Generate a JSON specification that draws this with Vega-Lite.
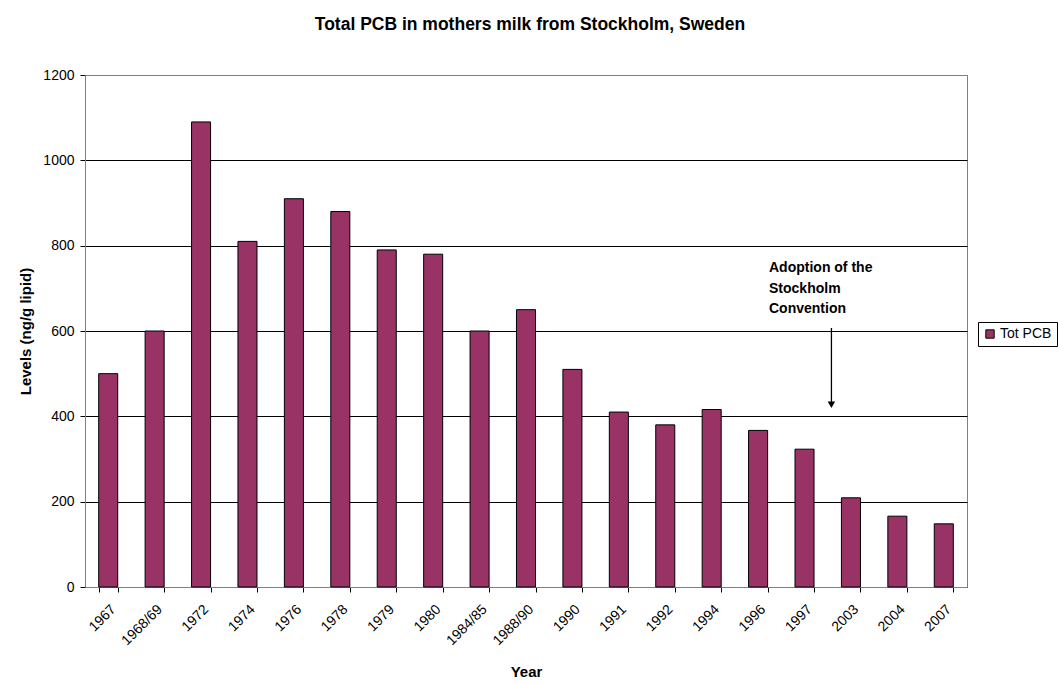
{
  "$schema": "https://vega.github.io/schema/vega-lite/v6.json",
  "autosize": {"type": "none"},
  "padding": {"left": 85, "top": 75, "right": 91, "bottom": 97},
  "width": 882,
  "height": 512,
  "background": "white",
  "title": {
    "text": "Total PCB in mothers milk from Stockholm, Sweden",
    "font": "Liberation Sans",
    "fontSize": 17.5,
    "fontWeight": "bold",
    "color": "black",
    "anchor": "middle",
    "dx": 4,
    "offset": 35
  },
  "config": {
    "view": {"stroke": "#808080", "strokeWidth": 1},
    "font": "Liberation Sans",
    "axis": {
      "labelFont": "Liberation Sans",
      "titleFont": "Liberation Sans",
      "labelColor": "black",
      "titleColor": "black",
      "labelFontSize": 14,
      "titleFontSize": 15,
      "titleFontWeight": "bold",
      "domainColor": "#808080",
      "tickColor": "black",
      "tickSize": 5
    }
  },
  "data": {
    "values": [
      {"Year": "1967", "PCB": 500},
      {"Year": "1968/69", "PCB": 600},
      {"Year": "1972", "PCB": 1090},
      {"Year": "1974", "PCB": 810},
      {"Year": "1976", "PCB": 910},
      {"Year": "1978", "PCB": 880},
      {"Year": "1979", "PCB": 790},
      {"Year": "1980", "PCB": 780},
      {"Year": "1984/85", "PCB": 600},
      {"Year": "1988/90", "PCB": 650},
      {"Year": "1990", "PCB": 510},
      {"Year": "1991", "PCB": 410},
      {"Year": "1992", "PCB": 380},
      {"Year": "1994", "PCB": 416},
      {"Year": "1996", "PCB": 367},
      {"Year": "1997", "PCB": 323},
      {"Year": "2003", "PCB": 209},
      {"Year": "2004", "PCB": 166},
      {"Year": "2007", "PCB": 148}
    ]
  },
  "layer": [
    {
      "mark": {"type": "bar", "stroke": "black", "strokeWidth": 1},
      "encoding": {
        "x": {
          "field": "Year",
          "type": "nominal",
          "sort": null,
          "title": "Year",
          "scale": {"paddingInner": 0.59, "paddingOuter": 0.295},
          "axis": {
            "labelAngle": -45,
            "labelPadding": 10,
            "tickBand": "extent",
            "grid": false,
            "titlePadding": 17
          }
        },
        "y": {
          "field": "PCB",
          "type": "quantitative",
          "title": "Levels (ng/g lipid)",
          "scale": {"domain": [0, 1200], "nice": false},
          "axis": {
            "values": [0, 200, 400, 600, 800, 1000, 1200],
            "format": "d",
            "gridColor": {"condition": {"test": "datum.value == 1200", "value": "#808080"}, "value": "black"},
            "gridWidth": 1,
            "domain": true,
            "labelPadding": 6,
            "titlePadding": 9
          }
        },
        "color": {
          "datum": "Tot PCB",
          "type": "nominal",
          "scale": {"range": ["#993366"]},
          "legend": {
            "title": null,
            "orient": "none",
            "legendX": 893,
            "legendY": 247,
            "symbolType": "square",
            "symbolSize": 70,
            "symbolStrokeColor": "black",
            "symbolStrokeWidth": 1,
            "labelFontSize": 14,
            "labelColor": "black",
            "labelFont": "Liberation Sans",
            "labelOffset": 3,
            "strokeColor": "black",
            "padding": 5,
            "fillColor": "white"
          }
        }
      }
    },
    {
      "data": {"values": [{"note": "arrow"}]},
      "mark": {"type": "rule", "color": "black", "strokeWidth": 1.3},
      "encoding": {
        "x": {"datum": "2003", "type": "nominal", "bandPosition": 0},
        "xOffset": {"value": -10},
        "y": {"datum": 607, "type": "quantitative"},
        "y2": {"datum": 430}
      }
    },
    {
      "data": {"values": [{"note": "arrowhead"}]},
      "mark": {"type": "point", "shape": "triangle-down", "filled": true, "fill": "black", "strokeWidth": 0, "size": 55, "opacity": 1},
      "encoding": {
        "x": {"datum": "2003", "type": "nominal", "bandPosition": 0},
        "xOffset": {"value": -10},
        "y": {"datum": 427, "type": "quantitative"}
      }
    },
    {
      "data": {"values": [{"note": "label"}]},
      "mark": {
        "type": "text",
        "align": "left",
        "baseline": "top",
        "font": "Liberation Sans",
        "fontSize": 14,
        "fontWeight": "bold",
        "fill": "black",
        "lineHeight": 20.5,
        "lineBreak": "\n",
        "dx": -26
      },
      "encoding": {
        "x": {"datum": "1997", "type": "nominal", "bandPosition": 0},
        "y": {"datum": 764, "type": "quantitative"},
        "text": {"value": "Adoption of the\nStockholm\nConvention"}
      }
    }
  ]
}
